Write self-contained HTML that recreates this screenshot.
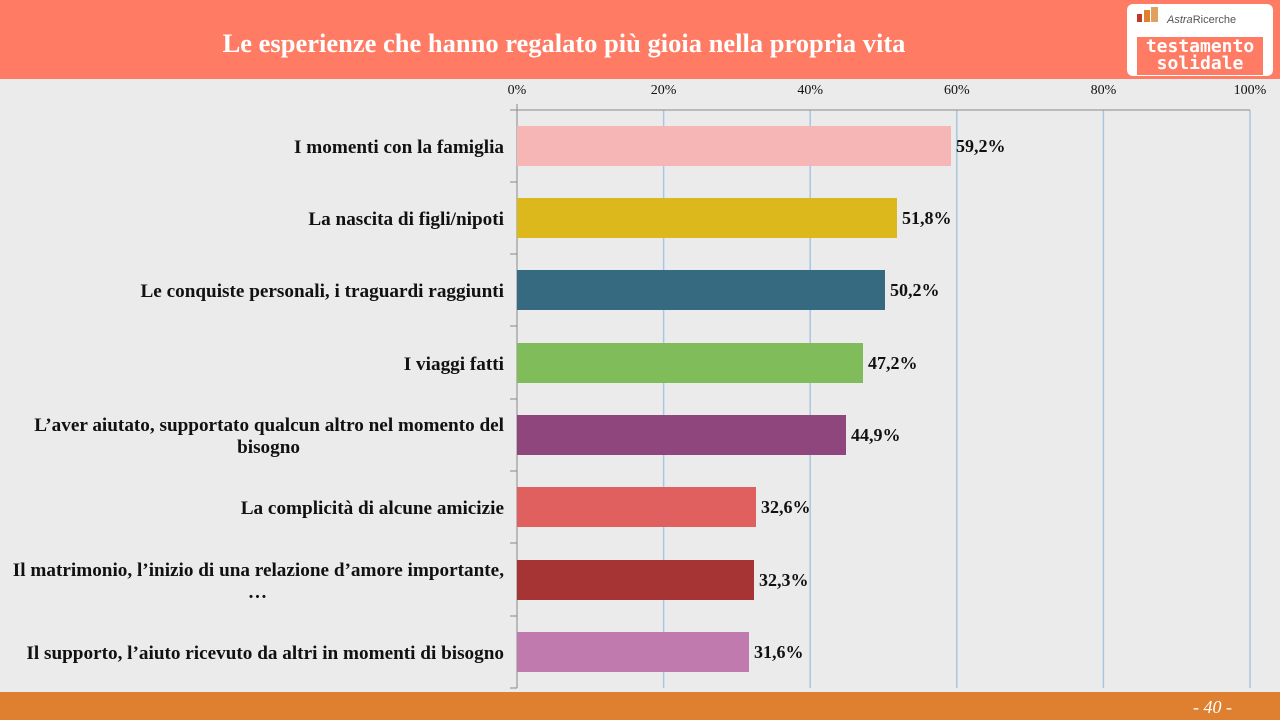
<!DOCTYPE html>
<html><head><meta charset="utf-8"><style>
body{margin:0;width:1280px;height:720px;overflow:hidden;background:#ebebeb;font-family:"Liberation Serif",serif;position:relative}
.hdr{position:absolute;left:0;top:0;width:1280px;height:79px;background:#ff7b63}
.title{position:absolute;left:0;width:1128px;top:28px;text-align:center;color:#fff;font-weight:bold;font-size:26.5px}
.logo{position:absolute;left:1127px;top:4px;width:146px;height:72px;background:#fff;border-radius:6px}
.ftr{position:absolute;left:0;top:692px;width:1280px;height:28px;background:#df8030}
.pg{position:absolute;right:48px;top:697px;color:#fff;font-style:italic;font-size:18px}
</style></head><body>
<div class="hdr"></div>
<div class="title">Le esperienze che hanno regalato più gioia nella propria vita</div>
<div class="logo">
<div style="position:absolute;left:10px;top:10px;width:5px;height:8px;background:#c0392b"></div>
<div style="position:absolute;left:17px;top:6px;width:6px;height:12px;background:#e07f30"></div>
<div style="position:absolute;left:24px;top:3px;width:7px;height:15px;background:#e0a060"></div>
<div style="position:absolute;left:40px;top:10px;font-family:'Liberation Sans',sans-serif;font-size:11px;color:#555"><i>Astra</i>Ricerche</div>
<div style="position:absolute;left:10px;top:33px;width:126px;height:37px;background:#ff7b63;color:#fff;font-family:'DejaVu Sans Mono',monospace;font-weight:bold;font-size:18px;line-height:17px;text-align:center;padding-top:1px">testamento<br>solidale</div>
</div>
<svg style="position:absolute;left:0;top:0" width="1280" height="720" font-family="Liberation Serif, serif">
<g stroke="#a9c7e0" stroke-width="1.5">
<line x1="663.6" y1="110" x2="663.6" y2="688"/><line x1="810.2" y1="110" x2="810.2" y2="688"/><line x1="956.8" y1="110" x2="956.8" y2="688"/><line x1="1103.4" y1="110" x2="1103.4" y2="688"/><line x1="1250" y1="110" x2="1250" y2="688"/>
</g>
<g stroke="#888" stroke-width="1">
<line x1="510" y1="110" x2="1250" y2="110"/><line x1="517" y1="104" x2="517" y2="688"/>
<line x1="510" y1="182" x2="517" y2="182"/><line x1="510" y1="254" x2="517" y2="254"/><line x1="510" y1="326" x2="517" y2="326"/><line x1="510" y1="399" x2="517" y2="399"/><line x1="510" y1="471" x2="517" y2="471"/><line x1="510" y1="543" x2="517" y2="543"/><line x1="510" y1="616" x2="517" y2="616"/><line x1="510" y1="688" x2="517" y2="688"/>
</g>
<g font-size="14" fill="#111" text-anchor="middle">
<text x="517" y="94">0%</text><text x="663.6" y="94">20%</text><text x="810.2" y="94">40%</text><text x="956.8" y="94">60%</text><text x="1103.4" y="94">80%</text><text x="1250" y="94">100%</text>
</g>
<rect x="517" y="126" width="434" height="40" fill="#f7b6b6"/>
<rect x="517" y="198" width="380" height="40" fill="#dcb81c"/>
<rect x="517" y="270" width="368" height="40" fill="#356a80"/>
<rect x="517" y="343" width="346" height="40" fill="#80bd5a"/>
<rect x="517" y="415" width="329" height="40" fill="#8e467c"/>
<rect x="517" y="487" width="239" height="40" fill="#e06060"/>
<rect x="517" y="560" width="237" height="40" fill="#a63434"/>
<rect x="517" y="632" width="232" height="40" fill="#c07aae"/>
<g font-size="18" font-weight="bold" fill="#111">
<text x="956" y="152">59,2%</text><text x="902" y="224">51,8%</text><text x="890" y="296">50,2%</text><text x="868" y="369">47,2%</text><text x="851" y="441">44,9%</text><text x="761" y="513">32,6%</text><text x="759" y="586">32,3%</text><text x="754" y="658">31,6%</text>
</g>
<g font-size="19.2" font-weight="bold" fill="#111" text-anchor="end">
<text x="504" y="153">I momenti con la famiglia</text>
<text x="504" y="225">La nascita di figli/nipoti</text>
<text x="504" y="297">Le conquiste personali, i traguardi raggiunti</text>
<text x="504" y="370">I viaggi fatti</text>
<text x="504" y="431">L’aver aiutato, supportato qualcun altro nel momento del</text>
<text x="300" y="453">bisogno</text>
<text x="504" y="514">La complicità di alcune amicizie</text>
<text x="504" y="576">Il matrimonio, l’inizio di una relazione d’amore importante,</text>
<text x="267" y="598">…</text>
<text x="504" y="659">Il supporto, l’aiuto ricevuto da altri in momenti di bisogno</text>
</g>
</svg>
<div class="ftr"></div>
<div class="pg">- 40 -</div>
</body></html>
